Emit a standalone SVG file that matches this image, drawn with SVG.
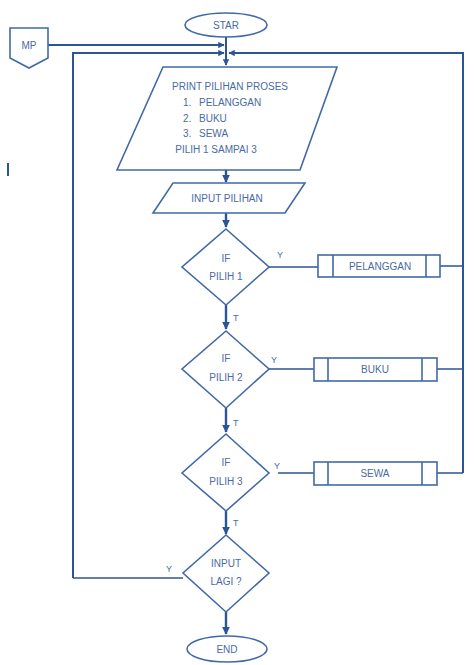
<svg xmlns="http://www.w3.org/2000/svg" width="474" height="665" viewBox="0 0 474 665">
<style>
.s{fill:#fff;stroke:#4169a8;stroke-width:1.6}
.c{fill:none;stroke:#2c5595;stroke-width:2}
.m{fill:none;stroke:#2c5595;stroke-width:2.4}
text{font-family:"Liberation Sans",Arial,sans-serif;font-size:10px;fill:#4a6aa3;text-anchor:middle}
.l{text-anchor:start}
</style>
<defs>
<marker id="a" viewBox="0 0 10 10" refX="9" refY="5" markerWidth="3.2" markerHeight="3.2" orient="auto" markerUnits="strokeWidth">
<path d="M0,0L10,5L0,10z" fill="#2c5595"/>
</marker>
</defs>
<rect x="0" y="0" width="474" height="665" fill="#fff"/>
<g id="connectors">
<path class="c" d="M226,37V65" marker-end="url(#a)"/>
<path class="c" d="M48,45H224" marker-end="url(#a)"/>
<path class="c" d="M73,578V53H224" marker-end="url(#a)"/>
<path class="c" d="M463,473V53H229" marker-end="url(#a)"/>
<path class="m" d="M226,170V182" marker-end="url(#a)"/>
<path class="m" d="M226,213V227" marker-end="url(#a)"/>
<path class="m" d="M226,305V329" marker-end="url(#a)"/>
<path class="m" d="M226,408V432" marker-end="url(#a)"/>
<path class="m" d="M226,511V534" marker-end="url(#a)"/>
<path class="m" d="M226,612V634" marker-end="url(#a)"/>
<path class="c" d="M183,578H73" style="stroke-width:1.6"/>
<path class="c" d="M269,267H318M440,266H463" style="stroke-width:1.6"/>
<path class="c" d="M269,369H314M437,369H463" style="stroke-width:1.6"/>
<path class="c" d="M278,473H314M437,473H463" style="stroke-width:1.6"/>
<text x="277" y="258" class="l" style="font-size:9px">Y</text>
<text x="233" y="321" class="l" style="font-size:9px">T</text>
<text x="271" y="363" class="l" style="font-size:9px">Y</text>
<text x="233" y="426" class="l" style="font-size:9px">T</text>
<text x="274" y="469" class="l" style="font-size:9px">Y</text>
<text x="233" y="526" class="l" style="font-size:9px">T</text>
<text x="166" y="572" class="l" style="font-size:9px">Y</text>
</g>
<g id="start">
<ellipse class="s" cx="226" cy="25" rx="41" ry="12"/>
<text x="226" y="29">STAR</text>
</g>
<g id="mp">
<path class="s" d="M10,28H48V58L29,68L10,58Z"/>
<text x="29" y="49">MP</text>
</g>
<g id="cursor">
<rect x="7" y="163" width="2" height="13" fill="#2c5595"/>
</g>
<g id="print">
<path class="s" d="M163,67H337L300,170H117Z"/>
<text x="230" y="90">PRINT PILIHAN PROSES</text>
<text x="183" y="106" class="l">1.</text>
<text x="199" y="106" class="l">PELANGGAN</text>
<text x="183" y="122" class="l">2.</text>
<text x="199" y="122" class="l">BUKU</text>
<text x="183" y="137" class="l">3.</text>
<text x="199" y="137" class="l">SEWA</text>
<text x="216" y="153">PILIH 1 SAMPAI 3</text>
</g>
<g id="input">
<path class="s" d="M173,183H305L285,213H153Z"/>
<text x="227" y="202">INPUT PILIHAN</text>
</g>
<g id="if1">
<path class="s" d="M226,229L269,267L226,305L182,267Z"/>
<text x="226" y="262">IF</text>
<text x="226" y="280">PILIH 1</text>
</g>
<g id="pelanggan">
<rect class="s" x="318" y="255" width="122" height="22"/>
<path class="s" d="M333,255V277M426,255V277"/>
<text x="380" y="270">PELANGGAN</text>
</g>
<g id="if2">
<path class="s" d="M226,331L269,369L226,408L182,369Z"/>
<text x="226" y="362">IF</text>
<text x="226" y="381">PILIH 2</text>
</g>
<g id="buku">
<rect class="s" x="314" y="358" width="123" height="23"/>
<path class="s" d="M328,358V381M422,358V381"/>
<text x="375" y="373">BUKU</text>
</g>
<g id="if3">
<path class="s" d="M226,434L269,473L226,511L182,473Z"/>
<text x="226" y="466">IF</text>
<text x="226" y="485">PILIH 3</text>
</g>
<g id="sewa">
<rect class="s" x="314" y="462" width="123" height="23"/>
<path class="s" d="M328,462V485M422,462V485"/>
<text x="375" y="477">SEWA</text>
</g>
<g id="lagi">
<path class="s" d="M226,535L269,573L226,612L183,573Z"/>
<text x="226" y="567">INPUT</text>
<text x="226" y="585">LAGI ?</text>
</g>
<g id="end">
<ellipse class="s" cx="227" cy="649" rx="40" ry="13"/>
<text x="227" y="653">END</text>
</g>
</svg>
